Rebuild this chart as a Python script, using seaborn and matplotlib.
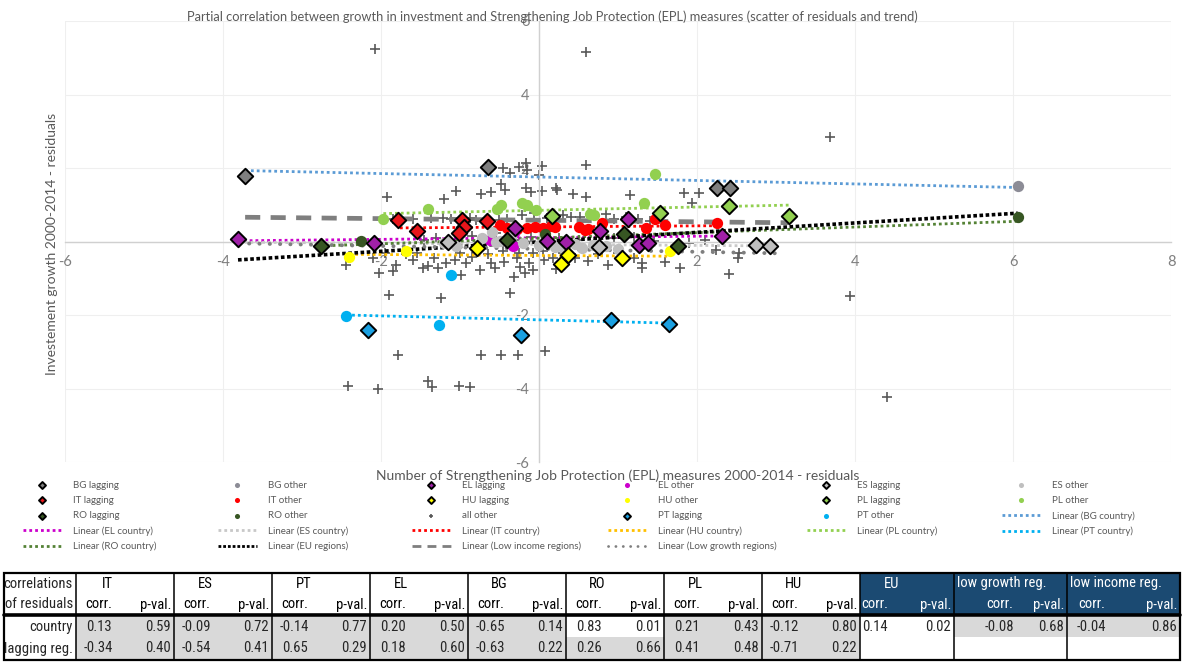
import matplotlib
matplotlib.use('Agg')
import matplotlib.pyplot as plt
import seaborn as sns
import numpy as np
from matplotlib import font_manager
from matplotlib.patches import Rectangle
from matplotlib.ticker import FuncFormatter, MultipleLocator

# ---- scatter data (residuals) ----
bg_lag_x = [-3.72, -0.65, 2.25, 2.42]
bg_lag_y = [1.78, 2.04, 1.45, 1.45]
bg_oth_x = [6.06]
bg_oth_y = [1.52]

it_lag_x = [-1.78, -1.54, -0.97, -0.95, -1.01, -0.66]
it_lag_y = [0.58, 0.29, 0.59, 0.40, 0.22, 0.55]
it_oth_x = [-0.50, -0.40, -0.33, -0.28, -0.15, -0.05, 0.05, 0.15, 0.20, 0.50, 0.58, 0.62, 0.80, 1.35, 1.47, 1.60, 2.25]
it_oth_y = [0.45, 0.38, 0.30, 0.35, 0.38, 0.40, 0.38, 0.42, 0.40, 0.40, 0.30, 0.35, 0.50, 0.36, 0.60, 0.45, 0.51]

ro_lag_x = [-2.76, -0.40, 1.08, 1.76]
ro_lag_y = [-0.11, 0.05, 0.20, -0.12]
ro_oth_x = [-2.25, 0.07, 6.06]
ro_oth_y = [0.02, 0.20, 0.68]

el_lag_x = [-3.81, -2.09, -0.31, 0.10, 0.34, 0.77, 1.13, 1.26, 1.38, 2.32]
el_lag_y = [0.07, -0.05, 0.36, 0.02, 0.00, 0.29, 0.60, -0.10, -0.03, 0.16]
el_oth_x = [-0.62, -0.33, -0.32]
el_oth_y = [0.04, -0.12, 0.22]

hu_lag_x = [-0.78, 0.28, 0.37, 1.05]
hu_lag_y = [-0.17, -0.60, -0.37, -0.44]
hu_oth_x = [-2.40, -1.68, 1.66]
hu_oth_y = [-0.42, -0.25, -0.27]

es_lag_x = [-1.15, 0.76, 2.75, 2.93]
es_lag_y = [0.00, -0.14, -0.10, -0.13]
es_oth_x = [-1.20, -1.05, -0.72, -0.55, -0.50, -0.35, -0.20, 0.00, 0.10, 0.20, 0.32, 0.45, 0.55, 0.68, 0.85, 1.00, -0.60]
es_oth_y = [-0.05, -0.12, 0.10, -0.02, 0.02, 0.12, -0.05, -0.10, -0.02, -0.15, -0.20, -0.08, -0.18, -0.10, -0.12, -0.20, 0.25]

pl_lag_x = [0.17, 1.53, 2.41, 3.16]
pl_lag_y = [0.69, 0.78, 0.97, 0.69]
pl_oth_x = [-1.98, -1.41, -0.53, -0.48, -0.22, -0.15, -0.04, 0.65, 0.70, 1.33, 1.47]
pl_oth_y = [0.60, 0.89, 0.88, 1.00, 1.05, 0.98, 0.86, 0.75, 0.72, 1.06, 1.83]

pt_lag_x = [-2.16, -0.23, 0.91, 1.64]
pt_lag_y = [-2.41, -2.54, -2.14, -2.24]
pt_oth_x = [-2.44, -1.27, -1.11]
pt_oth_y = [-2.02, -2.26, -0.91]

all_other_x = [-2.07, 0.60, 3.68, 4.41, 3.94,
               -1.92, -1.20, -1.05, -0.73, -0.61, -0.43, -0.48, -0.46, -0.37, -0.25, -0.17, -0.15, -0.17,
               -0.10, 0.04, 0.00, 0.04, 0.23, 0.43, 0.59, 0.59, 0.22, 1.15, 1.83, 2.03, 1.94,
               -1.85, -1.60, -1.37, -1.22, -1.12, -0.87, -0.80, -0.51, -0.40, -0.22, -0.06, 0.10, 0.30,
               0.41, 0.52, 0.66, 0.85, 0.95, 1.10, 1.25, 1.40,
               -1.45, -1.30, -0.85, -0.55, -0.30, -0.10, 0.25, 0.50, 0.95, 1.20, 1.45, -0.70, 0.70, 1.90, 2.10,
               -2.44, -2.02, -1.81, -1.85, -1.59, -1.47, -1.41, -1.33, -1.28, -1.18, -1.06, -0.99, -0.92,
               -0.85, -0.75, -0.61, -0.56, -0.44, -0.32, -0.24, -0.18, -0.08, 0.06, 0.22, -0.28, -0.13,
               -0.07, 0.18, 0.62, 0.87, 1.30, 1.30, 1.59, 1.78, 2.24, 2.41, 2.52, 2.53, -1.68, -1.55,
               -1.00, -0.65, -0.45, -0.25, 0.05, 0.30, 0.45, 0.75, 1.00, 1.20, -2.10, -1.95,
               -1.90, -1.24, -0.37, -1.78, -0.74, -0.475, -0.27, 0.07, -2.42, -2.04, -1.40, -1.36, -1.01, -0.87]
all_other_y = [5.23, 5.15, 2.85, -4.23, -1.48,
               1.20, 1.15, 1.38, 1.29, 1.36, 1.40, 1.56, 1.99, 1.86, 2.04, 2.14, 1.95, 1.45,
               1.36, 2.06, 1.81, 1.37, 1.40, 1.28, 1.22, 2.08, 1.45, 1.27, 1.33, 1.33, 1.04,
               0.60, 0.62, 0.63, 0.63, 0.60, 0.63, 0.58, 0.58, 0.62, 0.72, 0.77, 0.63, 0.72,
               0.68, 0.66, 0.72, 0.75, 0.62, 0.66, 0.62, 0.55,
               0.05, 0.10, 0.15, 0.22, 0.05, 0.12, 0.10, 0.05, 0.10, 0.12, 0.02, -0.05, -0.08, -0.05, 0.05,
               -0.64, -0.87, -0.64, -0.79, -0.50, -0.73, -0.67, -0.46, -0.73, -0.59, -0.50, -0.91, -0.59,
               -0.41, -0.78, -0.59, -0.73, -0.55, -0.96, -0.69, -0.87, -0.78, -0.50, -0.76, -0.46, -0.59,
               -0.32, -0.46, -0.52, -0.64, -0.59, -0.73, -0.55, -0.73, -0.23, -0.88, -0.46, -0.32, -0.35, -0.30,
               -0.30, -0.35, -0.25, -0.30, -0.25, -0.30, -0.45, -0.35, -0.30, -0.45, -0.45, -0.30,
               -1.46, -1.55, -1.41, -3.09, -3.09, -3.08, -3.09, -2.97, -3.92, -4.02, -3.80, -3.97, -3.92, -3.95]

# ---- linear trends (start / end) ----
trend_names = ['BG country', 'EL country', 'ES country', 'IT country', 'HU country', 'PL country',
               'PT country', 'RO country', 'EU regions', 'Low income regions', 'Low growth regions']
trend_x0 = [-3.72, -3.81, -3.80, -1.76, -2.40, -1.97, -2.44, -2.76, -3.81, -3.72, -3.80]
trend_x1 = [6.06, 2.32, 2.93, 2.28, 1.66, 3.16, 1.64, 6.06, 6.06, 3.16, 3.00]
trend_y0 = [1.93, 0.02, -0.02, 0.37, -0.35, 0.76, -2.00, -0.12, -0.50, 0.66, -0.05]
trend_y1 = [1.47, 0.15, -0.12, 0.43, -0.40, 0.99, -2.22, 0.55, 0.77, 0.51, -0.32]

# ---- correlation table ----
groups = ['IT', 'ES', 'PT', 'EL', 'BG', 'RO', 'PL', 'HU', 'EU', 'low growth reg.', 'low income reg.']
corr_country = [0.13, -0.09, -0.14, 0.20, -0.65, 0.83, 0.21, -0.12, 0.14, -0.08, -0.04]
pval_country = [0.59, 0.72, 0.77, 0.50, 0.14, 0.01, 0.43, 0.80, 0.02, 0.68, 0.86]
corr_lagging = [-0.34, -0.54, 0.65, 0.18, -0.63, 0.26, 0.41, -0.71, None, None, None]
pval_lagging = [0.40, 0.41, 0.29, 0.60, 0.22, 0.66, 0.48, 0.22, None, None, None]

title = ('Partial correlation between growth in investment and Strengthening Job Protection (EPL) '
         'measures (scatter of residuals and trend)')
xlabel = 'Number of Strengthening Job Protection (EPL) measures 2000-2014 - residuals'
ylabel = 'Investement growth 2000-2014 - residuals'

sns.set_style('white')
plt.rcParams['font.family'] = ['Lato', 'DejaVu Sans']
plt.rcParams['axes.unicode_minus'] = False

# narrow font for the table if one is around
fnames = {f.name for f in font_manager.fontManager.ttflist}
narrow, tsize = 'Liberation Sans', 9.0
for cand in ['Liberation Sans Narrow', 'Roboto Condensed', 'DejaVu Sans Condensed', 'Open Sans Condensed']:
    if cand in fnames:
        narrow, tsize = cand, 10.5
        break

W, H = 1185, 662
fig = plt.figure(figsize=(W / 100, H / 100), dpi=100)
ax = fig.add_axes([65 / W, 1 - 462 / H, 1106 / W, 441 / H])

# crosses first
sns.scatterplot(x=all_other_x, y=all_other_y, marker='+', s=45, color='#595959',
                edgecolor='#595959', linewidth=1.2, ax=ax, label='all other', zorder=2)

# trend lines
dot = (0, (1, 1.1))
line_style = {
    'BG country': dict(color='#5B9BD5', lw=2, ls=dot, cap='butt'),
    'EL country': dict(color='#CC00CC', lw=2, ls=dot, cap='butt'),
    'ES country': dict(color='#C8C8C8', lw=2, ls=dot, cap='butt'),
    'IT country': dict(color='#FF0000', lw=2, ls=dot, cap='butt'),
    'HU country': dict(color='#FFC000', lw=2, ls=dot, cap='butt'),
    'PL country': dict(color='#92D050', lw=2, ls=dot, cap='butt'),
    'PT country': dict(color='#00B0F0', lw=2, ls=dot, cap='butt'),
    'RO country': dict(color='#548235', lw=2, ls=dot, cap='butt'),
    'EU regions': dict(color='#000000', lw=2.6, ls=(0, (1, 0.7)), cap='butt'),
    'Low income regions': dict(color='#7F7F7F', lw=3.4, ls=(0, (3.2, 2.2)), cap='butt'),
    'Low growth regions': dict(color='#7F7F7F', lw=2.8, ls=(0, (0.05, 2.6)), cap='round'),
}
for n, x0, x1, y0, y1 in zip(trend_names, trend_x0, trend_x1, trend_y0, trend_y1):
    st = line_style[n]
    ax.plot([x0, x1], [y0, y1], color=st['color'], lw=st['lw'], ls=st['ls'],
            label='Linear (%s)' % n, zorder=3, dash_capstyle=st['cap'])

# circles ("other" regions)
others = [
    ('BG other', bg_oth_x, bg_oth_y, '#8C8C96'),
    ('IT other', it_oth_x, it_oth_y, '#FF0000'),
    ('RO other', ro_oth_x, ro_oth_y, '#375623'),
    ('EL other', el_oth_x, el_oth_y, '#CC00CC'),
    ('HU other', hu_oth_x, hu_oth_y, '#FFFF00'),
    ('ES other', es_oth_x, es_oth_y, '#BFBFBF'),
    ('PL other', pl_oth_x, pl_oth_y, '#92D050'),
    ('PT other', pt_oth_x, pt_oth_y, '#00B0F0'),
]
for name, xs, ys, col in others:
    sns.scatterplot(x=xs, y=ys, marker='o', s=66, color=col, edgecolor=col, linewidth=0,
                    ax=ax, label=name, zorder=4)

# diamonds ("lagging" regions)
lagging = [
    ('BG lagging', bg_lag_x, bg_lag_y, '#7F7F7F'),
    ('IT lagging', it_lag_x, it_lag_y, '#E8161B'),
    ('RO lagging', ro_lag_x, ro_lag_y, '#375623'),
    ('EL lagging', el_lag_x, el_lag_y, '#A020A8'),
    ('HU lagging', hu_lag_x, hu_lag_y, '#FFFF00'),
    ('ES lagging', es_lag_x, es_lag_y, '#BFBFBF'),
    ('PL lagging', pl_lag_x, pl_lag_y, '#92D050'),
    ('PT lagging', pt_lag_x, pt_lag_y, '#1BA1E2'),
]
for name, xs, ys, col in lagging:
    sns.scatterplot(x=xs, y=ys, marker='D', s=62, color=col, edgecolor='black', linewidth=1.4,
                    ax=ax, label=name, zorder=5)

if ax.get_legend() is not None:
    ax.get_legend().remove()

# axes crossing at the origin, Excel style
ax.set_xlim(-6, 8)
ax.set_ylim(-6, 6)
ax.xaxis.set_major_locator(MultipleLocator(2))
ax.yaxis.set_major_locator(MultipleLocator(2))
fmt = FuncFormatter(lambda v, p: '' if abs(v) < 1e-9 else '%g' % v)
ax.xaxis.set_major_formatter(fmt)
ax.yaxis.set_major_formatter(fmt)
ax.spines['left'].set_position(('data', 0))
ax.spines['bottom'].set_position(('data', 0))
for s in ['top', 'right']:
    ax.spines[s].set_visible(False)
for s in ['left', 'bottom']:
    ax.spines[s].set_color('#D0D0D0')
    ax.spines[s].set_linewidth(1.0)
ax.grid(True, color='#EFEFEF', lw=0.8)
ax.set_axisbelow(True)
ax.tick_params(axis='both', length=0, labelsize=10.5, labelcolor='#7F7F7F')
ax.tick_params(axis='x', pad=10)
ax.tick_params(axis='y', pad=7)

ax.text(0.441, 1.009, title, transform=ax.transAxes, ha='center', va='center',
        fontsize=9.3, color='#595959')
ax.text(0.5, -0.03, xlabel, transform=ax.transAxes, ha='center', va='center',
        fontsize=10, color='#595959')
ax.text(-0.012, 0.495, ylabel, transform=ax.transAxes, ha='center', va='center',
        rotation=90, fontsize=10, color='#595959')

# legend: 6 columns laid out row by row like the Excel legend
hmap = dict(zip(*ax.get_legend_handles_labels()[::-1]))
legend_rows = [
    ['BG lagging', 'BG other', 'EL lagging', 'EL other', 'ES lagging', 'ES other'],
    ['IT lagging', 'IT other', 'HU lagging', 'HU other', 'PL lagging', 'PL other'],
    ['RO lagging', 'RO other', 'all other', 'PT lagging', 'PT other', 'Linear (BG country)'],
    ['Linear (EL country)', 'Linear (ES country)', 'Linear (IT country)', 'Linear (HU country)',
     'Linear (PL country)', 'Linear (PT country)'],
    ['Linear (RO country)', 'Linear (EU regions)', 'Linear (Low income regions)',
     'Linear (Low growth regions)'],
]
col_text_x = [73, 268, 462, 658, 857, 1052]
for c, tx in enumerate(col_text_x):
    labs = [r[c] for r in legend_rows if c < len(r)]
    hs = [hmap[l] for l in labs]
    leg = fig.legend(hs, labs, loc='upper left', bbox_to_anchor=((tx - 50) / W, 1 - 481 / H),
                     frameon=False, fontsize=7, labelcolor='#595959', handlelength=4.0,
                     handletextpad=1.1, labelspacing=0.62, borderpad=0, borderaxespad=0,
                     markerscale=0.45)
    for lh in leg.legend_handles:
        if hasattr(lh, 'set_linewidth') and not hasattr(lh, 'get_offsets'):
            lh.set_linewidth(min(lh.get_linewidth(), 2.0))

# ---- table ----
axt = fig.add_axes([0, 0, 1, 1], zorder=-1)
axt.set_xlim(0, W)
axt.set_ylim(H, 0)
axt.axis('off')

tx0 = 4
first_w = 72
block_w = [98] * 8 + [94, 113, 113]
edges = [tx0, tx0 + first_w]
for w in block_w:
    edges.append(edges[-1] + w)
y_top, y_h2, y_thick, y_r1, y_r2, y_bot = 573, 594, 615, 616.5, 637, 660
blue = '#1B4A72'
gray = '#D9D9D9'
corr_pos = [0.23] * 8 + [0.16, 0.40, 0.22]
name_pos = [0.32] * 8 + [0.34, None, None]
tfont = dict(family=narrow, fontsize=tsize)

for i, g in enumerate(groups):
    bx0, bx1 = edges[i + 1], edges[i + 2]
    w = bx1 - bx0
    hdr_col = blue if i >= 8 else 'white'
    txt_col = 'white' if i >= 8 else 'black'
    axt.add_patch(Rectangle((bx0, y_top), w, y_thick - y_top, color=hdr_col, lw=0))
    f1 = gray if pval_country[i] >= 0.05 else 'white'
    axt.add_patch(Rectangle((bx0, y_r1), w, y_r2 - y_r1, color=f1, lw=0))
    if pval_lagging[i] is not None:
        f2 = gray if pval_lagging[i] >= 0.05 else 'white'
        axt.add_patch(Rectangle((bx0, y_r2), w, y_bot - y_r2, color=f2, lw=0))
    if name_pos[i] is None:
        axt.text(bx0 + 3, (y_top + y_h2) / 2, g, ha='left', va='center', color=txt_col, **tfont)
    else:
        axt.text(bx0 + name_pos[i] * w, (y_top + y_h2) / 2, g, ha='center', va='center',
                 color=txt_col, **tfont)
    cx = bx0 + corr_pos[i] * w
    axt.text(cx, (y_h2 + y_thick) / 2, 'corr.', ha='center', va='center', color=txt_col, **tfont)
    axt.text(bx1 - 3, (y_h2 + y_thick) / 2, 'p-val.', ha='right', va='center', color=txt_col, **tfont)
    axt.text(cx, (y_r1 + y_r2) / 2 + 0.5, '%.2f' % corr_country[i], ha='center', va='center', **tfont)
    axt.text(bx1 - 3, (y_r1 + y_r2) / 2 + 0.5, '%.2f' % pval_country[i], ha='right', va='center', **tfont)
    if corr_lagging[i] is not None:
        axt.text(cx, (y_r2 + y_bot) / 2, '%.2f' % corr_lagging[i], ha='center', va='center', **tfont)
        axt.text(bx1 - 3, (y_r2 + y_bot) / 2, '%.2f' % pval_lagging[i], ha='right', va='center', **tfont)

row_labels = ['correlations', 'of residuals', 'country', 'lagging reg.']
row_y = [(y_top + y_h2) / 2, (y_h2 + y_thick) / 2, (y_r1 + y_r2) / 2 + 0.5, (y_r2 + y_bot) / 2]
for lab, yy in zip(row_labels, row_y):
    axt.text(edges[1] - 3, yy, lab, ha='right', va='center', **tfont)

for e in edges[1:-1]:
    axt.plot([e, e], [y_top, y_bot], color='black', lw=1.1)
axt.plot([edges[0], edges[-1]], [y_thick, y_thick], color='black', lw=2.6)
axt.add_patch(Rectangle((edges[0], y_top), edges[-1] - edges[0], y_bot - y_top,
                        fill=False, edgecolor='black', lw=1.6))

fig.savefig('out.png', dpi=100)
